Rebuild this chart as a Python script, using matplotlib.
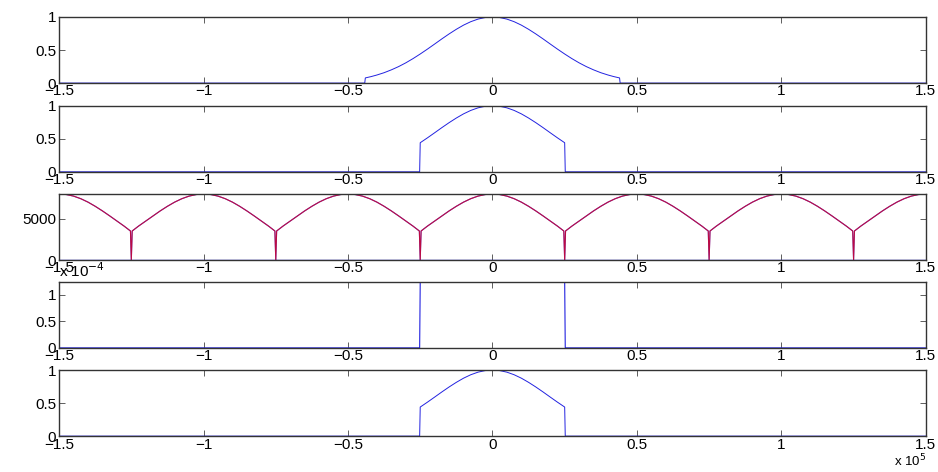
import numpy as np
import matplotlib
matplotlib.use("Agg")
import matplotlib.pyplot as plt

plt.rcParams["font.family"] = ["Liberation Sans", "DejaVu Sans"]

# half profile of the pulse (x in units of 1e4)
profile_x = [0.0, 0.25, 0.5, 0.75, 1.0, 1.25, 1.5, 1.75, 2.0, 2.25, 2.5,
             2.75, 3.0, 3.25, 3.5, 3.75, 4.0, 4.2, 4.4]
profile_y = [1.0, 0.992, 0.968, 0.929, 0.877, 0.814, 0.744, 0.669, 0.591, 0.514, 0.44,
             0.37, 0.306, 0.249, 0.2, 0.157, 0.122, 0.098, 0.078]

wide_cut = 4.4       # edge of the first pulse (x1e4)
narrow_cut = 2.5     # edge of the truncated pulse (x1e4)
period = 5.0         # spacing of the replicated spectrum (x1e4)
peak_height = 8000   # peak of the replicated spectrum
rect_height = 1.25e-4
x_span = 15.0        # plot range (x1e4)

xticks = [-1.5, -1, -0.5, 0, 0.5, 1, 1.5]   # x1e5
xtick_labels = ["\u22121.5", "\u22121", "\u22120.5", "0", "0.5", "1", "1.5"]


def pulse(cut, step=0.02):
    px = np.array(profile_x)
    py = np.array(profile_y)
    keep = px <= cut + 1e-9
    hx = px[keep]
    hy = py[keep]
    xs = np.concatenate([[-x_span, -cut - step], -hx[::-1], hx[1:], [cut + step, x_span]])
    ys = np.concatenate([[0, 0], hy[::-1], hy[1:], [0, 0]])
    return xs * 1e4, ys


def periodic(cut, scale):
    px = np.array(profile_x)
    py = np.array(profile_y)
    keep = px <= cut + 1e-9
    hx = px[keep]
    hy = py[keep] * scale
    xs, ys = [], []
    for c in np.arange(-x_span, x_span + period, period):
        seg_x = np.concatenate([[-cut + 0.03], -hx[::-1][1:], hx[1:-1], [cut - 0.03]]) + c
        seg_y = np.concatenate([[hy[-1]], hy[::-1][1:], hy[1:-1], [hy[-1]]])
        xs.extend(seg_x.tolist() + [c + cut])
        ys.extend(seg_y.tolist() + [0])
    xs = np.array(xs)
    ys = np.array(ys)
    m = (xs >= -x_span) & (xs <= x_span)
    return xs[m] * 1e4, ys[m]


def rect(cut, h, step=0.02):
    xs = np.array([-x_span, -cut - step, -cut, cut, cut + step, x_span]) * 1e4
    ys = np.array([0, 0, h, h, 0, 0])
    return xs, ys


def style_axes(ax, ylim, yticks, ylabels):
    ax.set_xlim(-1.5e5, 1.5e5)
    ax.set_ylim(*ylim)
    ax.set_xticks([t * 1e5 for t in xticks])
    ax.set_xticklabels(xtick_labels)
    ax.set_yticks(yticks)
    ax.set_yticklabels(ylabels)
    ax.tick_params(direction="in", top=True, right=True, length=4, width=0.6,
                   labelsize=11, pad=2, color="#444444")
    ax.tick_params(axis="x", pad=1)
    for s in ax.spines.values():
        s.set_color("#333333")
        s.set_linewidth(1.0)


fig = plt.figure(figsize=(9.38, 4.72), dpi=100)
left, width, height = 0.063, 0.924, 0.140
bottoms = [0.824, 0.636, 0.449, 0.263, 0.076]
axes = [fig.add_axes([left, b, width, height]) for b in bottoms]

blue = "#2222e0"

# 1: wide pulse
x1, y1 = pulse(wide_cut)
axes[0].plot(x1, y1, color=blue, lw=0.7)
style_axes(axes[0], (0, 1), [0, 0.5, 1], ["0", "0.5", "1"])

# 2: truncated pulse
x2, y2 = pulse(narrow_cut)
axes[1].plot(x2, y2, color=blue, lw=0.7)
style_axes(axes[1], (0, 1), [0, 0.5, 1], ["0", "0.5", "1"])

# 3: replicated spectrum
x3, y3 = periodic(narrow_cut, peak_height)
axes[2].plot([-1.5e5, 1.5e5], [0, 0], color=blue, lw=1.0)
axes[2].plot(x3, y3, color=blue, lw=0.8)
axes[2].plot(x3, y3, color="red", lw=0.8, alpha=0.7)
style_axes(axes[2], (0, peak_height), [0, 5000], ["0", "5000"])

# 4: rectangular window
x4, y4 = rect(narrow_cut, rect_height)
axes[3].plot(x4, y4, color=blue, lw=0.8)
style_axes(axes[3], (0, rect_height), [0, 0.5e-4, 1e-4], ["0", "0.5", "1"])
axes[3].text(0.0, 1.03, r"x 10$^{-4}$", transform=axes[3].transAxes,
             ha="left", va="bottom", fontsize=11)

# 5: filtered pulse
x5, y5 = pulse(narrow_cut)
axes[4].plot(x5, y5, color=blue, lw=0.7)
style_axes(axes[4], (0, 1), [0, 0.5, 1], ["0", "0.5", "1"])
axes[4].text(1.0, -0.25, r"x 10$^{5}$", transform=axes[4].transAxes,
             ha="right", va="top", fontsize=9.5)

fig.savefig("out.png", dpi=100)
